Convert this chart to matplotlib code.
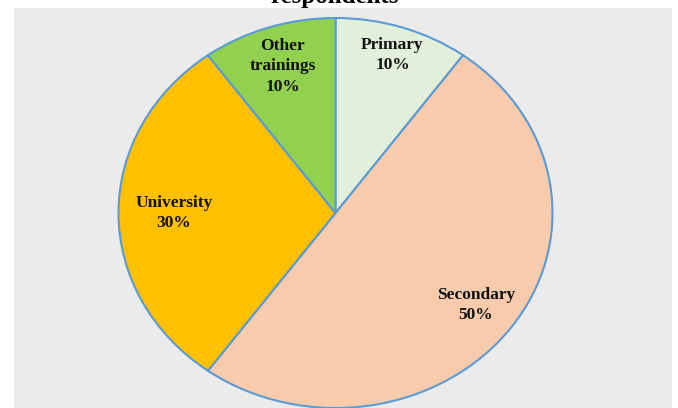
import matplotlib
matplotlib.use("Agg")
import matplotlib.pyplot as plt
import numpy as np

categories = ["Primary", "Secondary", "University", "Other\ntrainings"]
shares = [10, 50, 30, 10]
colors = ["#E2EFDA", "#F8CBAD", "#FFC000", "#92D050"]
title = "respondents"

fig = plt.figure(figsize=(6.78, 4.08), dpi=100)
fig.patch.set_facecolor("white")
W, H = 678, 408
ax = fig.add_axes([14 / W, 0, 658 / W, 400 / H])
ax.set_facecolor("#EBEBEB")

labels = [f"{c}\n{v}%" for c, v in zip(categories, shares)]
wedges, texts = ax.pie(
    shares, labels=labels, colors=colors, startangle=90, counterclock=False,
    wedgeprops=dict(edgecolor="#5B9BD5", linewidth=1.5),
    labeldistance=0.8,
    textprops=dict(family="Liberation Serif", fontweight="bold", fontsize=12.5,
                   color="#111111", linespacing=1.35),
    frame=True,
)
dist = [0.85, 0.80, 0.745, 0.79]
for w, t, d in zip(wedges, texts, dist):
    ang = np.deg2rad((w.theta1 + w.theta2) / 2)
    t.set_position((d * np.cos(ang), d * np.sin(ang)))
    t.set_ha("center")
    t.set_va("center")

ax.set_aspect("auto")
ax.set_xlim(-321.5 / 217, (658 - 321.5) / 217)
ax.set_ylim(-1.0, (400 - 195) / 195)
ax.set_xticks([])
ax.set_yticks([])
for s in ax.spines.values():
    s.set_visible(False)

fig.text(335 / W, 1 - 2.5 / H, title, ha="center", va="baseline",
         family="Liberation Serif", fontweight="bold", fontsize=18, color="black")

fig.savefig("out.png", dpi=100)
